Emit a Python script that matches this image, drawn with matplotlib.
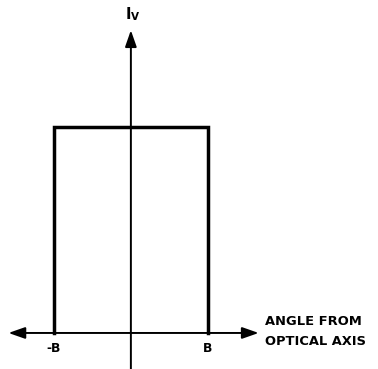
import numpy as np
import matplotlib
matplotlib.use("Agg")
import matplotlib.pyplot as plt

# beam profile: flat intensity between -B and B
edge_labels = ["-B", "B"]
edge_pos = [-1.0, 1.0]
level = 1.0
profile_x = [edge_pos[0], edge_pos[0], edge_pos[1], edge_pos[1]]
profile_y = [0.0, level, level, 0.0]

plt.rcParams['font.family'] = ['DejaVu Sans']

fig = plt.figure(figsize=(3.78, 3.69), dpi=100)
ax = fig.add_axes([0, 0, 1, 1])
ax.set_xlim(-1.70, 3.21)
ax.set_ylim(-0.175, 1.617)
ax.axis('off')

# axes with arrows
arr = dict(arrowstyle='-|>,head_length=1.0,head_width=0.35', color='black',
           lw=1.4, mutation_scale=10, shrinkA=0, shrinkB=0)
ax.annotate('', xy=(-1.59, 0), xytext=(0, 0), arrowprops=arr)
ax.annotate('', xy=(1.66, 0), xytext=(0, 0), arrowprops=arr)
ax.annotate('', xy=(0, 1.47), xytext=(0, -0.2), arrowprops=arr)

# profile
ax.plot(profile_x, profile_y, color='black', lw=2.5, solid_joinstyle='miter')

for lab, xp in zip(edge_labels, edge_pos):
    ax.text(xp, -0.075, lab, ha='center', va='center', fontsize=8.8, fontweight='bold')

ax.text(0.0, 1.548, r'$\mathbf{I}$', ha='right', va='center', fontsize=10.5)
ax.text(0.005, 1.535, 'V', ha='left', va='center', fontsize=7.5, fontweight='bold')
ax.text(1.74, 0.057, 'ANGLE FROM', ha='left', va='center', fontsize=9.4, fontweight='bold')
ax.text(1.74, -0.04, 'OPTICAL AXIS', ha='left', va='center', fontsize=9.4, fontweight='bold')

fig.savefig('out.png', dpi=100)
